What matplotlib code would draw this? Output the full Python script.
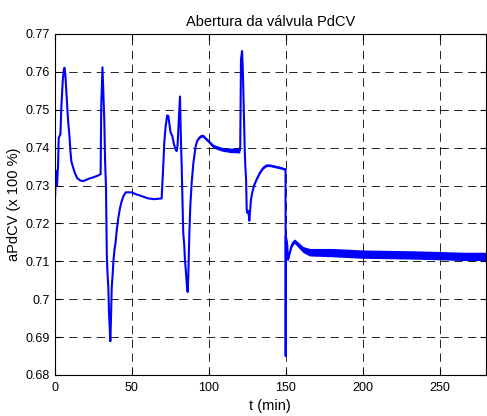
import numpy as np
import matplotlib
matplotlib.use('Agg')
import matplotlib.pyplot as plt
from matplotlib.ticker import FormatStrFormatter

plt.rcParams['font.family'] = ['Liberation Sans', 'DejaVu Sans']

# valores: tempo (min), abertura da válvula e meia-largura da faixa de oscilação
t_min = [0.0, 0.3, 0.97, 1.6, 2.3, 2.7, 3.8, 4.4, 5.3, 5.9, 6.4, 7.0, 7.5, 8.1, 8.8, 9.6,
         10.3, 10.9, 11.8, 13.1, 14.6, 16.8, 18.9, 22.2, 25.4, 28.6, 29.9, 30.3, 30.8, 31.1,
         31.7, 32.3, 32.8, 33.4, 33.9, 34.3, 34.9, 35.4, 35.8, 36.2, 36.7, 37.1, 37.7, 38.2,
         38.8, 39.7, 40.3, 41.4, 42.5, 43.6, 44.7, 46.2, 50.1, 52.2, 56.6, 60.9, 64.8, 69.5,
         69.9, 70.6, 71.2, 72.1, 73.1, 73.8, 74.4, 75.3, 76.4, 77.5, 78.5, 79.2, 79.8, 80.7,
         81.4, 82.0, 82.5, 82.9, 83.5, 84.2, 84.6, 85.3, 85.9, 86.4, 86.8, 87.5, 88.1, 89.0,
         90.1, 90.7, 91.6, 92.6, 93.9, 95.4, 96.5, 97.5, 99.7, 102.9, 108.3, 114.0, 120.2,
         120.5, 121.0, 121.7, 122.1, 122.5, 123.0, 123.4, 123.8, 124.3, 124.7, 125.1, 125.8,
         126.4, 126.8, 127.5, 128.3, 129.4, 131.1, 133.3, 135.5, 137.6, 139.8, 143.0, 146.3,
         149.5, 149.9, 150.0, 150.1, 150.9, 151.5, 152.6, 153.7, 154.8, 155.8, 158.0, 161.3,
         165.6, 180.0, 200.0, 230.0, 250.0, 265.0, 280.0]
apdcv = [0.7518, 0.7268, 0.7338, 0.7300, 0.7355, 0.7426, 0.7435, 0.7505, 0.7575, 0.7602,
         0.7611, 0.7593, 0.7558, 0.7514, 0.7470, 0.7435, 0.7391, 0.7364, 0.7351, 0.7334,
         0.7320, 0.7313, 0.7312, 0.7318, 0.7322, 0.7327, 0.7330, 0.7510, 0.7575, 0.7612,
         0.7540, 0.7470, 0.7364, 0.7294, 0.7118, 0.7074, 0.7030, 0.6960, 0.6925, 0.6889,
         0.6960, 0.7030, 0.7065, 0.7100, 0.7127, 0.7153, 0.7180, 0.7215, 0.7241, 0.7259,
         0.7272, 0.7282, 0.7282, 0.7278, 0.7272, 0.7266, 0.7264, 0.7266, 0.7299, 0.7356,
         0.7413, 0.7457, 0.7485, 0.7484, 0.7466, 0.7440, 0.7431, 0.7409, 0.7396, 0.7391,
         0.7404, 0.7475, 0.7535, 0.7422, 0.7352, 0.7281, 0.7176, 0.7141, 0.7105, 0.7070,
         0.7035, 0.7019, 0.7061, 0.7176, 0.7246, 0.7308, 0.7360, 0.7378, 0.7404, 0.7418,
         0.7426, 0.7431, 0.7431, 0.7426, 0.7418, 0.7404, 0.7396, 0.7393, 0.7393, 0.7404,
         0.7633, 0.7655, 0.7615, 0.7554, 0.7466, 0.7396, 0.7352, 0.7316, 0.7237, 0.7228,
         0.7233, 0.7207, 0.7228, 0.7264, 0.7281, 0.7299, 0.7316, 0.7334, 0.7347, 0.7353,
         0.7353, 0.7350, 0.7347, 0.7343, 0.7343, 0.6850, 0.7166, 0.7148, 0.7104, 0.7122,
         0.7140, 0.7149, 0.7153, 0.7144, 0.7131, 0.7124, 0.7123, 0.7119, 0.7117, 0.7115,
         0.7113, 0.7113]
band = [0] * 90 + [0.0002, 0.0003, 0.0004, 0.0004, 0.0004, 0.0005, 0.0005, 0.0006, 0.0007,
                   0, 0, 0, 0, 0, 0, 0, 0, 0, 0, 0, 0, 0, 0, 0, 0, 0,
                   0.0002, 0.0002, 0.0003, 0.0003, 0.0003, 0.0003, 0.0003, 0.0003,
                   0, 0, 0, 0.0003, 0.0003, 0.0004, 0.0005, 0.0006, 0.0006, 0.0007, 0.0008,
                   0.0010, 0.0011, 0.0011, 0.0011, 0.0011, 0.0011, 0.0011]

x_ticks = [0, 50, 100, 150, 200, 250]
y_ticks = [0.68, 0.69, 0.70, 0.71, 0.72, 0.73, 0.74, 0.75, 0.76, 0.77]

t = np.array(t_min)
y = np.array(apdcv)
b = np.array(band)

fig = plt.figure(figsize=(4.87, 4.16), dpi=100)
ax = fig.add_axes([0.112, 0.0986, 0.886, 0.8197])

ax.fill_between(t, y - b, y + b, color='#0000ff', linewidth=0)
ax.plot(t, y, color='#0000ff', linewidth=1.5)

ax.set_xlim(0, 280)
ax.set_ylim(0.68, 0.77)
ax.set_xticks(x_ticks)
ax.set_yticks(y_ticks)
ax.yaxis.set_major_formatter(FormatStrFormatter('%g'))
ax.tick_params(direction='in', top=True, right=True, labelsize=9, length=4, width=0.8)
ax.tick_params(axis='x', pad=5)
ax.grid(True, color='black', linestyle=(0, (10, 6.5)), linewidth=0.6)
for s in ax.spines.values():
    s.set_linewidth(0.8)

ax.set_title('Abertura da válvula PdCV', fontsize=10.5, pad=6)
ax.set_xlabel('t (min)', fontsize=10.5, labelpad=4)
ax.set_ylabel('aPdCV (x 100 %)', fontsize=10.5, labelpad=3)

fig.savefig('out.png', dpi=100)
